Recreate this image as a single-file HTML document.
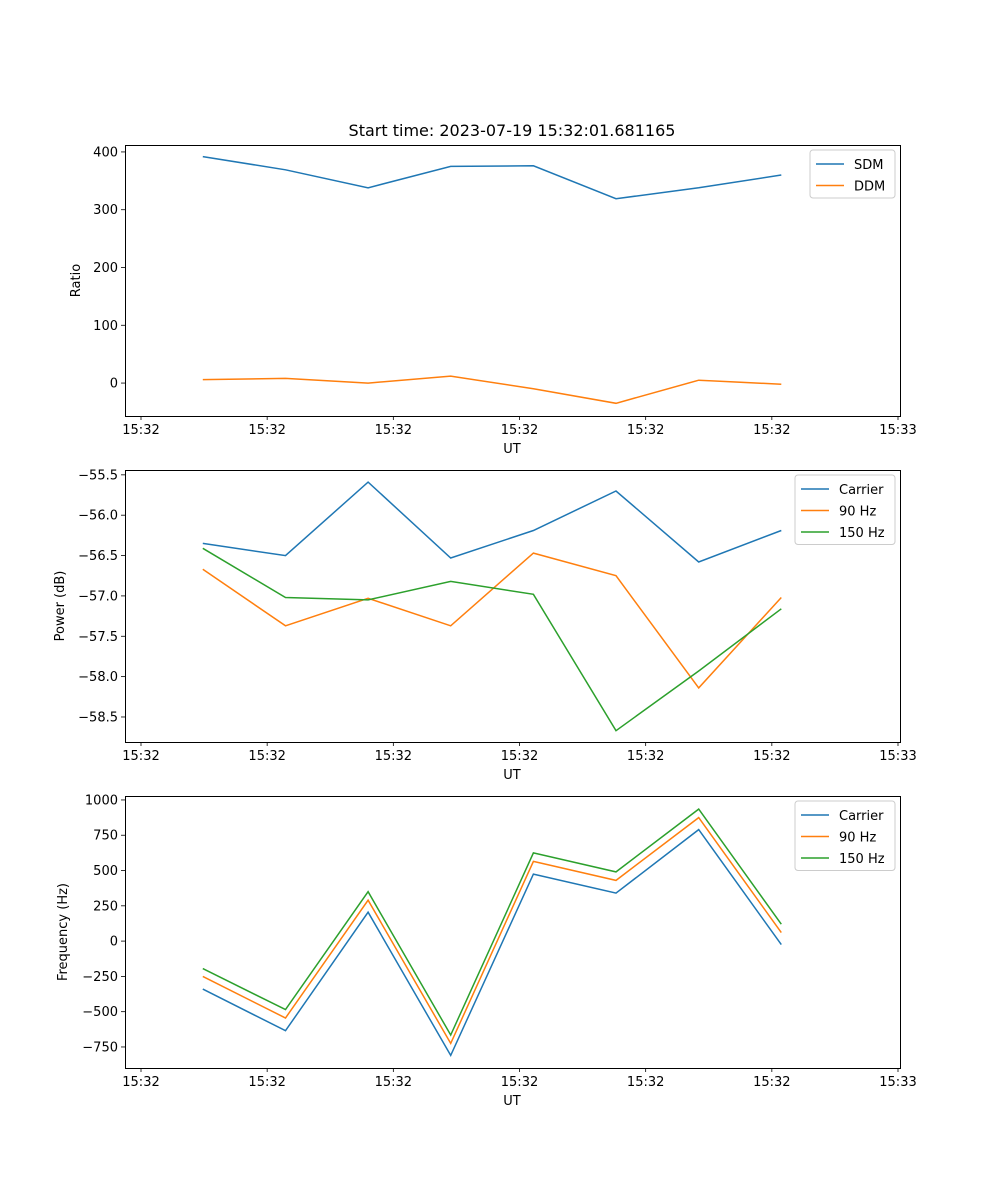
<!DOCTYPE html>
<html><head><meta charset="utf-8"><style>
body{margin:0;background:#fff}
svg{display:block;font-family:"DejaVu Sans","Liberation Sans",sans-serif}
</style></head><body>
<svg id="fig" width="1000" height="1200" xmlns="http://www.w3.org/2000/svg"></svg>
<script>
const times=[4.9,11.45,18.0,24.55,31.1,37.65,44.2,50.75];
const tickSecs=[0,10,20,30,40,50,60];
const tickLabels=["15:32","15:32","15:32","15:32","15:32","15:32","15:33"];
const sdm=[392,369,338,375,376,319,338,360];
const ddm=[6,8,0,12,-10,-35,5,-2];
const pwrCarrier=[-56.35,-56.5,-55.59,-56.53,-56.19,-55.7,-56.58,-56.19];
const pwr90=[-56.67,-57.37,-57.03,-57.37,-56.47,-56.75,-58.14,-57.02];
const pwr150=[-56.41,-57.02,-57.05,-56.82,-56.98,-58.67,-57.93,-57.16];
const frqCarrier=[-340,-635,205,-810,475,340,790,-25];
const frq90=[-250,-545,290,-725,565,430,875,60];
const frq150=[-195,-485,350,-665,625,490,935,120];
const yt1=[0,100,200,300,400];
const yt2=[-58.5,-58.0,-57.5,-57.0,-56.5,-56.0,-55.5];
const yt3=[-750,-500,-250,0,250,500,750,1000];
const C=["#1f77b4","#ff7f0e","#2ca02c"];
const svg=document.getElementById('fig');
const NS="http://www.w3.org/2000/svg";
function mk(t,a,p){const e=document.createElementNS(NS,t);for(const k in a)e.setAttribute(k,a[k]);(p||svg).appendChild(e);return e;}
const L=125,R=900;
function xs(s){return 141+(898-141)*s/60;}
function panel(name,top,bot,ymin,ymax,yt,ylab,series,names,fmt,leg){
  const g=mk('g',{});
  
  
  const ys=v=>bot-(v-ymin)/(ymax-ymin)*(bot-top);
  series.forEach((d,i)=>{
    const pts=d.map((v,j)=>xs(times[j]).toFixed(1)+','+ys(v).toFixed(1)).join(' ');
    const pl=mk('polyline',{points:pts,fill:'none',stroke:C[i],'stroke-width':1.5},g);
    
    
  });
  const fr=mk('rect',{x:L+0.5,y:top+0.5,width:R-L,height:bot-top,fill:'none',stroke:'#000','stroke-width':1,'shape-rendering':'crispEdges'},g);
  
  
  tickSecs.forEach((s,i)=>{
    const x=xs(s);
    mk('line',{x1:x,x2:x,y1:bot,y2:bot+4,stroke:'#000','stroke-width':0.8},g);
    const t=mk('text',{x:x,y:bot+18,'font-size':13,'text-anchor':'middle'},g);t.textContent=tickLabels[i];
    
    
  });
  yt.forEach(v=>{
    const y=ys(v);
    mk('line',{x1:L-4,x2:L,y1:y,y2:y,stroke:'#000','stroke-width':0.8},g);
    const t=mk('text',{x:L-7,y:y+4.5,'font-size':13,'text-anchor':'end'},g);t.textContent=fmt(v);
    
    
  });
  const xl=mk('text',{x:512,y:bot+37,'font-size':13,'text-anchor':'middle'},g);xl.textContent='UT';
  
  
  const cy=(top+bot)/2;
  const yl=mk('text',{x:leg.yl,y:cy,'font-size':13,'text-anchor':'middle',transform:`rotate(-90 ${leg.yl} ${cy})`},g);yl.textContent=ylab;
  
  
  const lg=mk('g',{},g);
  
  
  mk('rect',{x:leg.x,y:top+5,width:R-5-leg.x,height:names.length*21.5+5,fill:'#fff',stroke:'#ccc',rx:3},lg);
  names.forEach((n,i)=>{
    const y=top+19+i*21.5;
    mk('line',{x1:leg.x+6,x2:leg.x+34,y1:y,y2:y,stroke:C[i],'stroke-width':1.5},lg);
    const t=mk('text',{x:leg.x+44,y:y+5,'font-size':13},lg);t.textContent=n;
    
    
  });
}
const tt=mk('text',{x:512,y:136,'font-size':16,'text-anchor':'middle'});tt.textContent='Start time: 2023-07-19 15:32:01.681165';


panel('ratio-panel',145,416,-57,412,yt1,'Ratio',[sdm,ddm],['SDM','DDM'],v=>String(v),{x:810,yl:80});
panel('power-panel',470,742,-58.81,-55.44,yt2,'Power (dB)',[pwrCarrier,pwr90,pwr150],['Carrier','90 Hz','150 Hz'],v=>v.toFixed(1).replace('-','\u2212'),{x:795,yl:64});
panel('frequency-panel',796,1068,-899,1028,yt3,'Frequency (Hz)',[frqCarrier,frq90,frq150],['Carrier','90 Hz','150 Hz'],v=>String(v).replace('-','\u2212'),{x:795,yl:67});
</script>
</body></html>
